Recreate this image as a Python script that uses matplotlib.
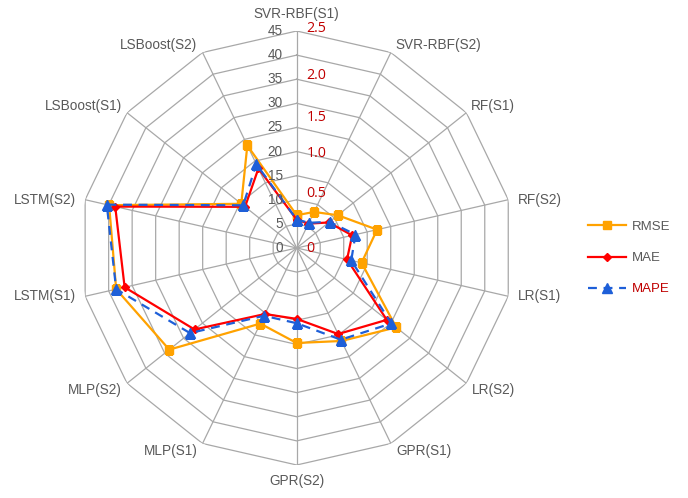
import numpy as np
import matplotlib
matplotlib.use("Agg")
import matplotlib.pyplot as plt

categories = ["SVR-RBF(S1)", "SVR-RBF(S2)", "RF(S1)", "RF(S2)", "LR(S1)", "LR(S2)",
              "GPR(S1)", "GPR(S2)", "MLP(S1)", "MLP(S2)", "LSTM(S1)", "LSTM(S2)",
              "LSBoost(S1)", "LSBoost(S2)"]
rmse = [6.8, 8.3, 10.9, 17.1, 13.8, 26.4, 21.4, 19.7, 17.4, 33.8, 38.4, 39.9, 14.7, 23.6]
mae = [5.9, 5.6, 8.5, 11.8, 10.7, 23.9, 19.8, 14.7, 15.2, 27.1, 36.6, 38.6, 13.7, 18.3]
mape = [5.9, 5.8, 8.7, 12.5, 11.6, 25.1, 21.1, 15.6, 15.6, 28.3, 38.4, 40.4, 14.2, 19.3]
left_ticks = [0, 5, 10, 15, 20, 25, 30, 35, 40, 45]
right_ticks = ["0", "0.5", "1.0", "1.5", "2.0", "2.5"]
right_tick_r = [0, 11.2, 19.6, 27.0, 35.8, 45.6]

W, H = 688, 498
fig = plt.figure(figsize=(W / 100, H / 100), dpi=100)
cx, cy, R = 296.7, 248.0, 217.0
ax = fig.add_axes([(cx - R) / W, (H - cy - R) / H, 2 * R / W, 2 * R / H], projection="polar")
ax.set_theta_zero_location("N")
ax.set_theta_direction(-1)
ax.set_ylim(0, 45)
ax.grid(False)
ax.set_xticks([])
ax.set_yticks([])
ax.spines["polar"].set_visible(False)
ax.patch.set_alpha(0)

n = len(categories)
theta = np.arange(n) * 2 * np.pi / n
tc = np.append(theta, theta[0])
gridc = "#A8A8A8"
for r in left_ticks[1:]:
    ax.plot(tc, [r] * (n + 1), color=gridc, lw=0.9, zorder=1)
for t in theta:
    ax.plot([t, t], [0, 45], color=gridc, lw=0.9, zorder=1)

def closed(v):
    return list(v) + [v[0]]

ax.plot(tc, closed(rmse), color="#FFA200", lw=1.6, marker="s", ms=5.5, zorder=3, label="RMSE")
ax.plot(tc, closed(mae), color="#FF0000", lw=1.6, marker="D", ms=4.5, zorder=4, label="MAE")
ax.plot(tc, closed(mape), color="#1E5FD8", lw=1.6, ls=(0, (4, 3)), marker="^", ms=7, zorder=5, label="MAPE")

txtc = "#595959"
fam = ["Liberation Sans", "DejaVu Sans"]
for v in left_ticks:
    ax.annotate(str(v), xy=(0, v), xytext=(-10, 0), textcoords="offset points",
                ha="right", va="center", fontsize=9.8, color=txtc, family=fam, zorder=6,
                annotation_clip=False)
for lab, r in zip(right_ticks, right_tick_r):
    ax.annotate(lab, xy=(0, r), xytext=(7, 0), textcoords="offset points",
                ha="left", va="center", fontsize=10.3, color="#C00000",
                family=["Open Sans", "DejaVu Sans"], zorder=6, annotation_clip=False)

pt = 72 / 100
for t, lab in zip(theta, categories):
    s, c = np.sin(t), np.cos(t)
    if abs(s) < 0.1:
        ha = "center"
        dx = 0
        if c > 0:
            va, dy = "bottom", 10
        else:
            va, dy = "top", -9
    else:
        ha = "left" if s > 0 else "right"
        if c > 0.5:
            va = "bottom"
            dx, dy = (5 if s > 0 else -5), 0
        elif c < -0.5:
            va = "top"
            dx, dy = (6 if s > 0 else -5), 0
        else:
            va = "center"
            dx, dy = (10 if s > 0 else -9), 0
    ax.annotate(lab, xy=(t, 45), xytext=(dx * pt, dy * pt), textcoords="offset points",
                ha=ha, va=va, fontsize=9.8, color=txtc, family=fam, annotation_clip=False)

leg = fig.legend(loc="center left", bbox_to_anchor=(588 / W, 1 - 258 / H), frameon=False,
                 borderpad=0, borderaxespad=0, handlelength=2.9, handletextpad=0.4,
                 labelspacing=1.45, numpoints=1, prop={"family": fam, "size": 9.5})
for txt, col in zip(leg.get_texts(), [txtc, txtc, "#C00000"]):
    txt.set_color(col)

fig.savefig("out.png", dpi=100)
